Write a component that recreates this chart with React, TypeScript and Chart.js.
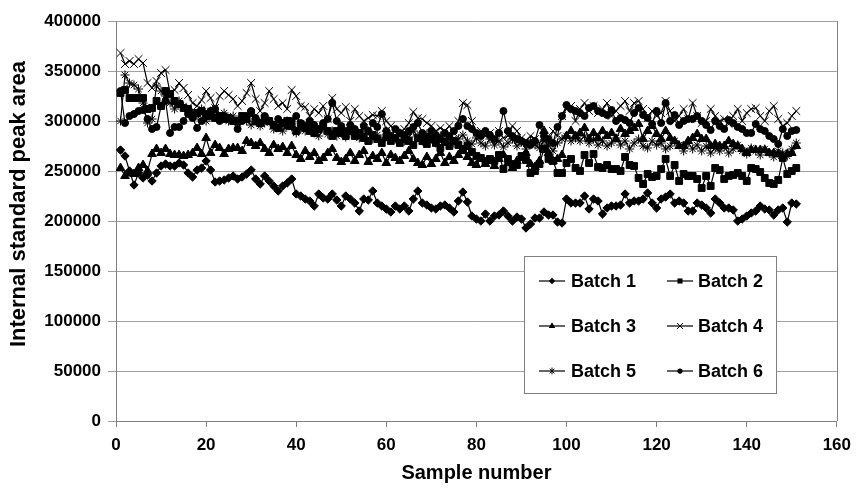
import React, { useEffect, useRef } from "react";
import { Chart, registerables } from "chart.js";

Chart.register(...registerables);

const FONT = "'Liberation Sans', Arial, Helvetica, sans-serif";

// Sample numbers (x axis): 1 .. 151
const sampleNumbers: number[] = Array.from({ length: 151 }, (_, i) => i + 1);

const batchLabels: string[] = ["Batch 1", "Batch 2", "Batch 3", "Batch 4", "Batch 5", "Batch 6"];

// Internal standard peak area, in thousands, samples 1..151
const batch1: number[] = [
  271, 265, 250, 236, 248, 243, 246, 240, 248, 255, 257, 255, 255, 258, 256, 248, 244, 251, 253, 260, 251, 239, 240, 241, 243, 245,
  242, 244, 247, 251, 242, 237, 245, 240, 235, 230, 235, 238, 242, 227, 225, 222, 220, 215, 227, 223, 222, 227, 221, 215, 225, 222,
  218, 210, 222, 221, 230, 218, 215, 212, 209, 215, 212, 215, 210, 222, 230, 218, 216, 213, 212, 215, 216, 213, 209, 220, 229,
  219, 205, 202, 200, 207, 200, 205, 206, 210, 205, 200, 204, 202, 193, 197, 203, 203, 209, 206, 206, 199, 198, 222, 218, 218,
  218, 225, 212, 222, 220, 207, 213, 215, 215, 216, 227, 218, 220, 220, 222, 228, 218, 213, 222, 224, 227, 218, 220, 218, 210,
  210, 218, 216, 213, 208, 222, 218, 213, 213, 211, 200, 202, 205, 208, 210, 215, 212, 211, 206, 211, 213, 199, 218, 217,
];
const batch2: number[] = [
  328, 331, 323, 323, 323, 323, 312, 313, 320, 315, 330, 327, 320, 317, 313, 312, 305, 308, 310, 307, 305, 303, 305, 302, 303, 300,
  300, 305, 302, 308, 300, 298, 303, 300, 296, 293, 298, 300, 295, 290, 297, 293, 290, 288, 292, 295, 290, 285, 290, 288, 285, 290,
  285, 288, 283, 280, 286, 282, 278, 284, 280, 283, 278, 282, 280, 276, 283, 280, 277, 282, 278, 273, 279, 275, 280, 276, 272,
  275, 269, 265, 263, 260, 262, 260, 266, 252, 262, 257, 256, 265, 261, 248, 250, 257, 272, 262, 260, 248, 248, 258, 262, 253,
  250, 266, 258, 267, 254, 253, 256, 252, 252, 250, 264, 256, 255, 243, 237, 247, 244, 245, 252, 262, 245, 256, 240, 247, 245,
  245, 242, 233, 245, 235, 253, 251, 242, 245, 246, 248, 245, 240, 253, 252, 249, 243, 238, 237, 241, 263, 247, 250, 253,
];
const batch3: number[] = [
  253, 245, 248, 247, 253, 256, 250, 267, 272, 268, 272, 267, 266, 266, 265, 266, 268, 273, 267, 283, 268, 276, 273, 267, 272, 273,
  273, 270, 280, 278, 275, 278, 272, 268, 276, 272, 274, 268, 275, 266, 262, 270, 264, 268, 260, 263, 268, 272, 263, 259, 262, 268,
  260, 266, 270, 259, 265, 262, 268, 258, 266, 263, 260, 265, 270, 262, 258, 256, 264, 257, 262, 268, 258, 264, 260, 266, 270,
  264, 258, 256, 262, 257, 260, 255, 262, 266, 258, 253, 260, 263, 268, 257, 254, 260, 290, 268, 260, 262, 266, 285, 290, 285,
  288, 293, 282, 288, 283, 290, 285, 288, 282, 292, 287, 290, 293, 297, 282, 290, 295, 287, 282, 290, 283, 280, 275, 275, 280,
  283, 287, 282, 282, 275, 277, 275, 275, 280, 277, 275, 272, 268, 271, 271, 271, 271, 268, 268, 267, 265, 267, 268, 275,
];
const batch4: number[] = [
  368, 357, 360, 357, 362, 358, 338, 333, 340, 348, 351, 328, 331, 338, 333, 326, 318, 315, 321, 330, 323, 313, 325, 330, 326,
  322, 315, 320, 328, 338, 322, 310, 318, 330, 322, 315, 318, 312, 331, 325, 315, 314, 305, 312, 308, 315, 302, 323, 312, 308, 314, 300,
  312, 305, 300, 303, 306, 305, 310, 300, 295, 290, 288, 292, 298, 309, 303, 302, 298, 295, 290, 293, 290, 295, 288, 300, 318,
  316, 300, 288, 290, 285, 288, 282, 290, 283, 285, 295, 290, 283, 280, 285, 282, 278, 285, 280, 290, 285, 305, 312, 315, 300,
  312, 318, 310, 315, 308, 312, 318, 305, 310, 315, 320, 310, 318, 320, 312, 303, 310, 305, 308, 320, 310, 300, 305, 312, 302,
  318, 305, 298, 300, 312, 305, 300, 302, 297, 305, 312, 300, 308, 312, 313, 305, 300, 310, 315, 302, 295, 298, 305, 310,
];
const batch5: number[] = [
  300, 346, 338, 336, 332, 318, 298, 302, 335, 330, 325, 318, 312, 320, 315, 310, 308, 305, 312, 300, 310, 306, 303, 308, 300, 305,
  298, 304, 300, 296, 302, 295, 298, 300, 292, 296, 290, 300, 294, 288, 292, 290, 296, 288, 285, 292, 287, 290, 285, 288, 284, 290,
  288, 283, 287, 290, 282, 286, 280, 290, 285, 282, 288, 280, 284, 290, 285, 280, 287, 282, 278, 285, 280, 283, 278, 282, 286,
  280, 277, 283, 278, 275, 282, 276, 280, 274, 278, 282, 275, 279, 272, 280, 276, 273, 280, 276, 270, 278, 282, 285, 280, 283,
  280, 285, 278, 282, 276, 280, 275, 278, 283, 276, 280, 272, 278, 282, 275, 273, 280, 276, 278, 272, 275, 280, 276, 270, 278,
  272, 276, 270, 275, 268, 273, 270, 274, 268, 272, 276, 270, 267, 273, 270, 266, 272, 268, 264, 270, 268, 265, 272, 278,
];
const batch6: number[] = [
  330, 298, 305, 307, 310, 311, 302, 292, 294, 315, 320, 288, 294, 294, 300, 307, 303, 293, 300, 305, 310, 312, 300, 305, 303, 300,
  292, 300, 305, 310, 303, 298, 305, 300, 296, 302, 298, 295, 300, 305, 298, 295, 300, 296, 292, 298, 302, 318, 300, 295, 290, 296,
  292, 288, 295, 290, 298, 294, 307, 290, 285, 292, 288, 286, 290, 294, 298, 288, 284, 290, 286, 282, 288, 285, 290, 295, 302,
  295, 292, 288, 285, 290, 286, 282, 288, 310, 290, 285, 282, 280, 278, 276, 280, 296, 285, 282, 278, 294, 305, 316, 312, 310,
  308, 305, 313, 315, 310, 308, 306, 311, 300, 303, 301, 298, 308, 313, 306, 303, 297, 310, 298, 318, 300, 306, 296, 300, 302,
  302, 305, 300, 296, 291, 300, 295, 292, 301, 298, 294, 292, 288, 288, 297, 292, 290, 285, 282, 277, 292, 285, 290, 291,
];

const batchValues: number[][] = [batch1, batch2, batch3, batch4, batch5, batch6];

const xTickValues: number[] = [0, 20, 40, 60, 80, 100, 120, 140, 160];
const yTickValues: number[] = [0, 50000, 100000, 150000, 200000, 250000, 300000, 350000, 400000];

const markers: string[] = ["rectRot", "rect", "triangle", "crossRot", "star", "circle"];
const markerRadius: number[] = [4.2, 4.8, 5, 5.5, 4.5, 3.5];

function drawMarker(ctx: CanvasRenderingContext2D, style: string, x: number, y: number, r: number) {
  ctx.beginPath();
  if (style === "circle") {
    ctx.arc(x, y, r, 0, Math.PI * 2);
    ctx.fill();
  } else if (style === "rect") {
    const s = r * Math.SQRT1_2;
    ctx.rect(x - s, y - s, 2 * s, 2 * s);
    ctx.fill();
  } else if (style === "rectRot") {
    ctx.moveTo(x, y - r);
    ctx.lineTo(x + r, y);
    ctx.lineTo(x, y + r);
    ctx.lineTo(x - r, y);
    ctx.closePath();
    ctx.fill();
  } else if (style === "triangle") {
    const h = r * 1.5;
    ctx.moveTo(x, y - r);
    ctx.lineTo(x + r * 0.866, y + h - r);
    ctx.lineTo(x - r * 0.866, y + h - r);
    ctx.closePath();
    ctx.fill();
  } else if (style === "crossRot" || style === "star") {
    const d = r * Math.SQRT1_2;
    ctx.moveTo(x - d, y - d);
    ctx.lineTo(x + d, y + d);
    ctx.moveTo(x - d, y + d);
    ctx.lineTo(x + d, y - d);
    if (style === "star") {
      ctx.moveTo(x, y - r);
      ctx.lineTo(x, y + r);
    }
    ctx.stroke();
  }
}

const frameAndLegend = {
  id: "frameAndLegend",
  afterDraw(chart: any) {
    const ctx: CanvasRenderingContext2D = chart.ctx;
    const a = chart.chartArea;
    ctx.save();
    // plot frame (right side)
    ctx.strokeStyle = "#808080";
    ctx.lineWidth = 1;
    ctx.beginPath();
    ctx.moveTo(Math.round(a.right) + 0.5, a.top);
    ctx.lineTo(Math.round(a.right) + 0.5, a.bottom);
    ctx.stroke();

    // legend box
    const bx = 524.5, by = 256.5, bw = 252, bh = 137;
    ctx.fillStyle = "#ffffff";
    ctx.fillRect(bx, by, bw, bh);
    ctx.strokeStyle = "#808080";
    ctx.strokeRect(bx, by, bw, bh);
    const lineX = [539, 667];
    const textX = [571, 698];
    const rowY = [281, 326, 371];
    ctx.font = `bold 18px ${FONT}`;
    ctx.textBaseline = "middle";
    ctx.textAlign = "left";
    batchLabels.forEach((label, i) => {
      const col = i % 2;
      const row = Math.floor(i / 2);
      const y = rowY[row];
      ctx.strokeStyle = "#000";
      ctx.fillStyle = "#000";
      ctx.lineWidth = 1.2;
      ctx.beginPath();
      ctx.moveTo(lineX[col], y);
      ctx.lineTo(lineX[col] + 26, y);
      ctx.stroke();
      ctx.lineWidth = 1;
      drawMarker(ctx, markers[i], lineX[col] + 13, y, markerRadius[i] * 0.75);
      ctx.fillStyle = "#000";
      ctx.fillText(label, textX[col], y + 1);
    });

    // y axis title
    ctx.translate(19, 204);
    ctx.rotate(-Math.PI / 2);
    ctx.font = `bold 22px ${FONT}`;
    ctx.textAlign = "center";
    ctx.textBaseline = "middle";
    ctx.fillStyle = "#000";
    ctx.fillText("Internal standard peak area", 0, 0);
    ctx.restore();
  },
};

export default function App() {
  const ref = useRef<HTMLCanvasElement>(null);
  useEffect(() => {
    if (!ref.current) return;
    const datasets = batchLabels.map((label, i) => ({
      label,
      data: batchValues[i].map((v, j) => ({ x: sampleNumbers[j], y: v * 1000 })),
      borderColor: "#000",
      backgroundColor: "#000",
      borderWidth: 1.2,
      pointStyle: markers[i] as any,
      pointRadius: markerRadius[i],
      pointBackgroundColor: "#000",
      pointBorderColor: "#000",
      pointBorderWidth: 1,
      tension: 0,
      fill: false,
    }));
    const chart = new Chart(ref.current, {
      type: "line",
      data: { datasets },
      plugins: [frameAndLegend],
      options: {
        animation: false,
        responsive: false,
        devicePixelRatio: 1,
        layout: { padding: { left: 0, top: 21, right: 16, bottom: 0 } },
        plugins: { legend: { display: false }, tooltip: { enabled: false } },
        scales: {
          x: {
            type: "linear",
            min: 0,
            max: 160,
            afterBuildTicks: (s: any) => {
              s.ticks = xTickValues.map((v) => ({ value: v }));
            },
            ticks: {
              font: { family: FONT, size: 17, weight: "bold" },
              color: "#000",
              padding: 8,
              maxRotation: 0,
              callback: (v: any) => String(v),
            },
            grid: { drawOnChartArea: false, tickLength: 6, color: "#808080" },
            border: { color: "#808080" },
            title: {
              display: true,
              text: "Sample number",
              font: { family: FONT, size: 20, weight: "bold" },
              color: "#000",
              padding: { top: 0, bottom: 5 },
            },
            afterFit: (s: any) => {
              s.height = 69;
            },
          },
          y: {
            min: 0,
            max: 400000,
            afterBuildTicks: (s: any) => {
              s.ticks = yTickValues.map((v) => ({ value: v }));
            },
            ticks: {
              font: { family: FONT, size: 17, weight: "bold" },
              color: "#000",
              padding: 7,
              callback: (v: any) => String(v),
            },
            grid: { color: "#a0a0a0", tickLength: 8 },
            border: { color: "#808080" },
            afterFit: (s: any) => {
              s.width = 116;
            },
          },
        },
      },
    });
    return () => chart.destroy();
  }, []);
  return (
    <div style={{ position: "fixed", left: 0, top: 0, width: 859, height: 490, background: "#fff" }}>
      <canvas ref={ref} width={859} height={490} style={{ display: "block", width: 859, height: 490 }} />
    </div>
  );
}
